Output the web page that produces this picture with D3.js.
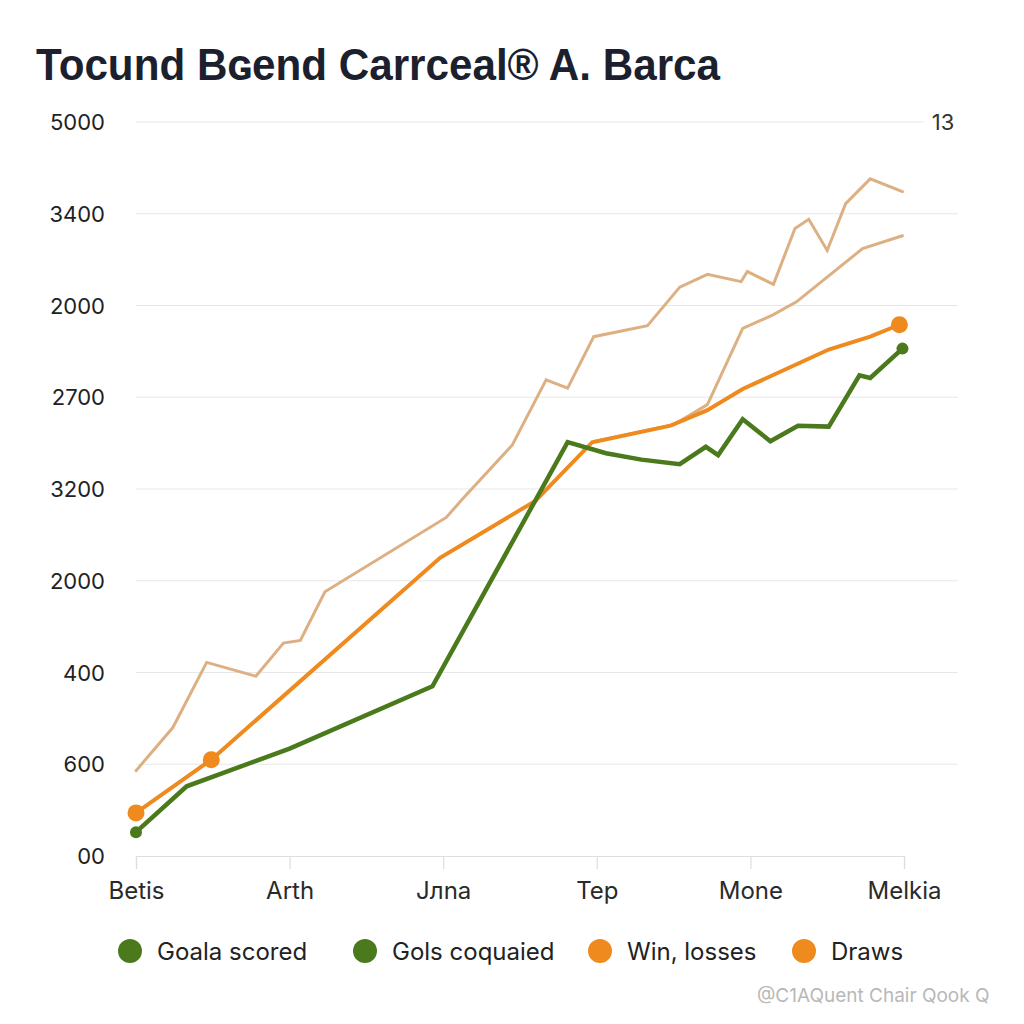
<!DOCTYPE html>
<html>
<head>
<meta charset="utf-8">
<script src="https://cdn.jsdelivr.net/npm/d3@7/dist/d3.min.js"></script>
<style>
  html, body { margin: 0; padding: 0; background: #ffffff; }
  svg { display: block; }
</style>
</head>
<body>
<svg id="chart" width="1024" height="1024"></svg>
<script>
// ---- data ----
const titleText = "Tocund B\u0262end Carrceal\u00AE A. Barca";
const xCategories = ["Betis", "Arth", "J\u043Bna", "Tep", "Mone", "Melkia"];
const yTickValues = [0, 100, 200, 300, 400, 500, 600, 700, 800];
const yTickLabels = ["00", "600", "400", "2000", "3200", "2700", "2000", "3400", "5000"];

// x positions are fractional category indices (0 = Betis ... 5 = Melkia)
const greenX = [0, 0.33, 1.0, 1.93, 2.81, 3.06, 3.29, 3.54, 3.71, 3.79, 3.95, 4.13, 4.31, 4.51, 4.71, 4.78, 4.99];
const greenY = [26, 76, 117, 185, 451, 439, 432, 427, 446, 437, 476, 452, 469, 468, 524, 521, 553];

const orangeX = [0, 0.49, 1.98, 2.60, 2.97, 3.48, 3.72, 3.95, 4.51, 4.78, 4.97];
const orangeY = [47, 105, 325, 387, 451, 469, 486, 509, 552, 566, 579];

const tanUpperX = [0, 0.24, 0.46, 0.78, 0.96, 1.07, 1.23, 2.02, 2.13, 2.45, 2.67, 2.81, 2.98, 3.33, 3.54, 3.72, 3.94, 3.98, 4.15, 4.29, 4.38, 4.50, 4.62, 4.78, 4.99];
const tanUpperY = [93, 140, 211, 196, 232, 235, 288, 369, 390, 448, 519, 510, 566, 578, 620, 634, 626, 637, 623, 684, 694, 660, 711, 738, 724];

const tanLowerX = [2.99, 3.50, 3.72, 3.95, 4.15, 4.30, 4.73, 4.99];
const tanLowerY = [452, 470, 492, 575, 590, 604, 662, 676];

const legendLabels = ["Goala scored", "Gols coquaied", "Win, losses", "Draws"];
const legendColors = ["#4a7a1c", "#4a7a1c", "#ee8a1e", "#ee8a1e"];

const cornerLabel = "13";
const watermark = "@C1AQuent Chair Qook Q";

// ---- layout ----
const svg = d3.select("#chart");
const x = d3.scaleLinear().domain([0, 5]).range([136, 904]);
const y = d3.scaleLinear().domain([0, 800]).range([856, 122]);
const gridRight = 958;

const GREEN = "#4a7a1c", ORANGE = "#ee8a1e", TAN = "#ddb083";
const FONT = "Inter, 'Liberation Sans', sans-serif";

// title
svg.append("text")
  .attr("x", 36).attr("y", 80)
  .attr("font-family", "'Liberation Sans', Arial, sans-serif")
  .attr("font-weight", 700).attr("font-size", 45)
  .attr("fill", "#1b1f2e")
  .attr("textLength", 684).attr("lengthAdjust", "spacingAndGlyphs")
  .text(titleText);

// gridlines
svg.append("g").selectAll("line")
  .data(yTickValues.slice(1))
  .join("line")
  .attr("x1", x(0))
  .attr("x2", d => d === 800 ? 924 : gridRight)
  .attr("y1", d => y(d)).attr("y2", d => y(d))
  .attr("stroke", "#e7e7e7").attr("stroke-width", 1.2);

// y labels
svg.append("g").selectAll("text")
  .data(yTickValues)
  .join("text")
  .attr("x", 105)
  .attr("y", d => y(d) + 8)
  .attr("text-anchor", "end")
  .attr("font-family", FONT)
  .attr("font-size", 22).attr("fill", "#222")
  .text((d, i) => yTickLabels[i]);

// x axis
const xAxis = d3.axisBottom(x)
  .tickValues(d3.range(xCategories.length))
  .tickFormat(i => xCategories[i])
  .tickSize(13).tickPadding(13);
const gx = svg.append("g").attr("transform", `translate(0,${y(0)})`).call(xAxis);
gx.select(".domain").attr("stroke", "#dedede").attr("stroke-width", 1.2);
gx.selectAll(".tick line").attr("stroke", "#dedede").attr("stroke-width", 1.2);
gx.selectAll(".tick text")
  .attr("font-family", FONT)
  .attr("font-size", 24).attr("fill", "#2a2a2a");

// corner label
svg.append("text")
  .attr("x", 943).attr("y", 130).attr("text-anchor", "middle")
  .attr("font-family", FONT)
  .attr("font-size", 22).attr("fill", "#333")
  .text(cornerLabel);

// lines
const line = d3.line().x(d => x(d[0])).y(d => y(d[1]));
const zip = (a, b) => a.map((v, i) => [v, b[i]]);

const series = [
  { pts: zip(tanLowerX, tanLowerY), color: TAN, w: 3 },
  { pts: zip(tanUpperX, tanUpperY), color: TAN, w: 3 },
  { pts: zip(orangeX, orangeY), color: ORANGE, w: 4 },
  { pts: zip(greenX, greenY), color: GREEN, w: 4.5 }
];
svg.append("g").selectAll("path")
  .data(series)
  .join("path")
  .attr("d", d => line(d.pts))
  .attr("fill", "none")
  .attr("stroke", d => d.color)
  .attr("stroke-width", d => d.w)
  .attr("stroke-linejoin", "miter")
  .attr("stroke-linecap", "round");

// markers
const orangeMarkers = [0, 1, orangeX.length - 1];
svg.append("g").selectAll("circle")
  .data(orangeMarkers)
  .join("circle")
  .attr("cx", i => x(orangeX[i])).attr("cy", i => y(orangeY[i]))
  .attr("r", 8.5).attr("fill", ORANGE);

const greenMarkers = [0, greenX.length - 1];
svg.append("g").selectAll("circle")
  .data(greenMarkers)
  .join("circle")
  .attr("cx", i => x(greenX[i])).attr("cy", i => y(greenY[i]))
  .attr("r", 6).attr("fill", GREEN);

// legend
const legendX = [130, 365, 600, 804];
const lg = svg.append("g").selectAll("g")
  .data(legendLabels)
  .join("g")
  .attr("transform", (d, i) => `translate(${legendX[i]},951)`);
lg.append("circle").attr("r", 12).attr("fill", (d, i) => legendColors[i]);
lg.append("text")
  .attr("x", 27).attr("y", 8.5)
  .attr("font-family", FONT)
  .attr("font-size", 24).attr("fill", "#222")
  .text(d => d);

// watermark
svg.append("text")
  .attr("x", 757).attr("y", 1002)
  .attr("font-family", FONT)
  .attr("font-size", 19).attr("fill", "#b8b8b8")
  .text(watermark);
</script>
</body>
</html>
